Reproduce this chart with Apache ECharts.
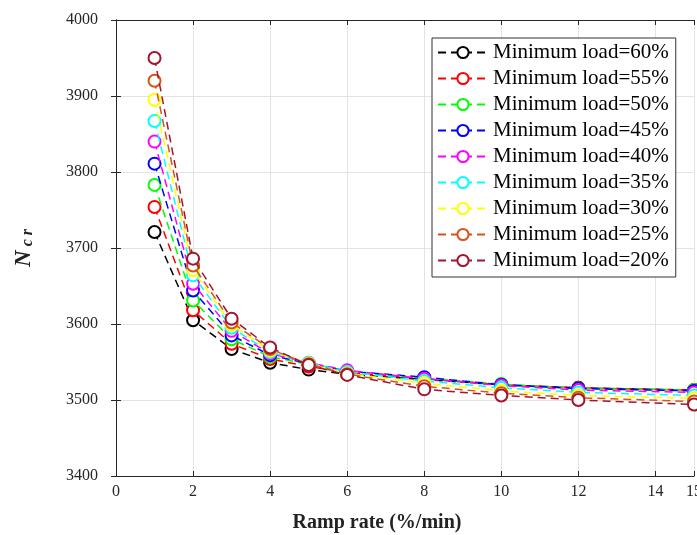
<!DOCTYPE html>
<html>
<head>
<meta charset="utf-8">
<script src="https://cdn.jsdelivr.net/npm/echarts@6/dist/echarts.min.js"></script>
<style>html,body{margin:0;padding:0;background:#fff}#c{width:697px;height:535px}</style>
</head>
<body>
<div id="c"></div>
<script>
const rampRates = [1, 2, 3, 4, 5, 6, 8, 10, 12, 15];
const seriesNames = ['Minimum load=60%','Minimum load=55%','Minimum load=50%','Minimum load=45%','Minimum load=40%','Minimum load=35%','Minimum load=30%','Minimum load=25%','Minimum load=20%'];
const load60 = [3721, 3605, 3567, 3549, 3540, 3534, 3527, 3520, 3516, 3513];
const load55 = [3754, 3618, 3574, 3554, 3544, 3536, 3528, 3520, 3516, 3513];
const load50 = [3783, 3631, 3580, 3557, 3547, 3537, 3529, 3521, 3515, 3513];
const load45 = [3811, 3644, 3585, 3559, 3548, 3538, 3530, 3520, 3515, 3512];
const load40 = [3840, 3653, 3591, 3561, 3549, 3539, 3528, 3519, 3513, 3510];
const load35 = [3867, 3664, 3595, 3563, 3549, 3537, 3525, 3516, 3510, 3506];
const load30 = [3895, 3671, 3599, 3565, 3548, 3535, 3522, 3512, 3506, 3502];
const load25 = [3920, 3677, 3602, 3567, 3547, 3534, 3518, 3509, 3503, 3498];
const load20 = [3950, 3686, 3607, 3569, 3546, 3533, 3514, 3506, 3500, 3494];
const allValues = [load60, load55, load50, load45, load40, load35, load30, load25, load20];
const colors = ['#000000','#ff0000','#00ff00','#0000ff','#ff00ff','#00ffff','#ffff00','#D95319','#A2142F'];
const xTicks = [0, 2, 4, 6, 8, 10, 12, 14, 15];

const font = 'Liberation Serif';
const series = allValues.map((vals, i) => ({
  name: seriesNames[i],
  type: 'line',
  data: rampRates.map((x, j) => [x, vals[j]]),
  symbol: 'emptyCircle',
  symbolSize: 12,
  showAllSymbol: true,
  color: colors[i],
  lineStyle: { color: colors[i], width: 1.5, type: [8, 5] },
  itemStyle: { color: colors[i], borderColor: colors[i], borderWidth: 1.5 },
  emphasis: { disabled: true },
  animation: false,
  z: 2 + i
}));

const chart = echarts.init(document.getElementById('c'));
chart.setOption({
  animation: false,
  backgroundColor: '#fff',
  grid: { left: 116, right: 3, top: 20, bottom: 59, containLabel: false, outerBoundsMode: 'none' },
  legend: {
    show: true,
    orient: 'vertical',
    left: 432,
    top: 38,
    backgroundColor: '#fff',
    borderColor: '#333',
    borderWidth: 1,
    padding: [4, 7, 6, 5],
    itemWidth: 50,
    itemHeight: 14,
    itemGap: 5,
    textStyle: { fontFamily: font, fontSize: 21, color: '#000', lineHeight: 21 },
    data: seriesNames
  },
  xAxis: [{
    type: 'value',
    min: 0, max: 15, interval: 2,
    name: 'Ramp rate (%/min)',
    nameLocation: 'middle',
    nameGap: 37,
    nameTextStyle: { fontFamily: font, fontSize: 20, fontWeight: 'bold', color: '#222', padding: [0, 56, 0, 0] },
    axisLine: { show: true, lineStyle: { color: '#262626', width: 1 } },
    axisTick: { show: true, inside: true, length: 5, customValues: xTicks, lineStyle: { color: '#262626' } },
    axisLabel: { fontFamily: font, fontSize: 16, color: '#262626', margin: 8, customValues: xTicks },
    splitLine: { show: true, lineStyle: { color: '#e3e3e3', width: 1 } }
  }, {
    type: 'value',
    position: 'top',
    min: 0, max: 15, interval: 2,
    axisLine: { show: true, lineStyle: { color: '#262626', width: 1 } },
    axisTick: { show: true, inside: true, length: 5, customValues: xTicks, lineStyle: { color: '#262626' } },
    axisLabel: { show: false },
    splitLine: { show: false }
  }],
  yAxis: [{
    type: 'value',
    min: 3400, max: 4000, interval: 100,
    name: '{n|N}{s| c r}',
    nameLocation: 'middle',
    nameGap: 80,
    nameRotate: 90,
    nameTextStyle: {
      rich: {
        n: { fontFamily: font, fontSize: 23, fontStyle: 'italic', fontWeight: 'bold', color: '#222' },
        s: { fontFamily: font, fontSize: 16, fontStyle: 'italic', fontWeight: 'bold', color: '#222', verticalAlign: 'bottom' }
      }
    },
    axisLine: { show: true, lineStyle: { color: '#262626', width: 1 } },
    axisTick: { show: true, inside: true, length: 5, lineStyle: { color: '#262626' } },
    axisLabel: { fontFamily: font, fontSize: 16, color: '#262626', margin: 18, formatter: v => String(v) },
    splitLine: { show: true, lineStyle: { color: '#e3e3e3', width: 1 } }
  }, {
    type: 'value',
    position: 'right',
    min: 3400, max: 4000, interval: 100,
    axisLine: { show: true, lineStyle: { color: '#262626', width: 1 } },
    axisTick: { show: true, inside: true, length: 5, lineStyle: { color: '#262626' } },
    axisLabel: { show: false },
    splitLine: { show: false }
  }],
  series: series
});
</script>
</body>
</html>
